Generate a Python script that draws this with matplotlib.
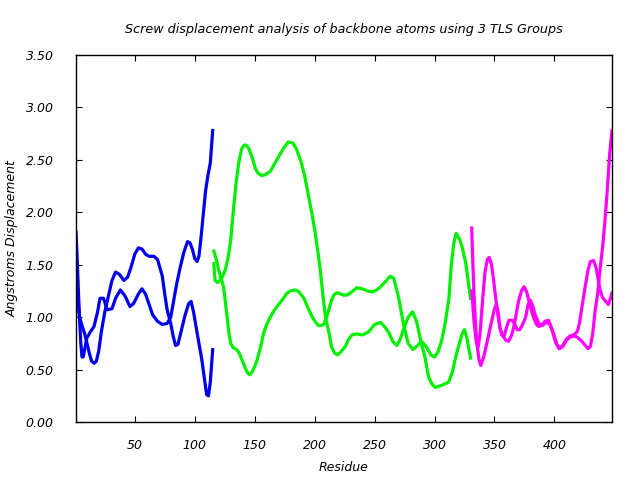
import matplotlib
matplotlib.use("Agg")
import matplotlib.pyplot as plt

# TLS group 1 (blue), two curves
blue_res_a = [1, 2, 3, 4, 5, 6, 7, 8, 10, 13, 16, 19, 21, 24, 27, 31, 34, 38, 42, 46, 49, 53, 56, 59,
              62, 65, 69, 73, 77, 80, 82.5, 85, 88, 91, 94, 96, 98, 100, 102, 103.5, 105, 107.5, 109,
              111, 113, 115]
blue_val_a = [1.81, 1.55, 1.25, 0.98, 0.75, 0.62, 0.62, 0.68, 0.80, 0.86, 0.91, 1.05, 1.18, 1.18, 1.07,
              1.08, 1.18, 1.26, 1.20, 1.10, 1.13, 1.22, 1.27, 1.22, 1.12, 1.02, 0.96, 0.93, 0.94, 1.00,
              1.16, 1.32, 1.48, 1.62, 1.72, 1.71, 1.65, 1.56, 1.53, 1.58, 1.73, 2.02, 2.20, 2.35, 2.47,
              2.78]
blue_res_b = [1, 2, 4, 6, 8, 10, 12, 14, 16, 18, 20, 22, 25, 28, 31, 34, 37, 41, 44, 47, 50, 53, 56, 59,
              62, 66, 69, 71, 73, 75, 77, 80, 82, 84, 86, 89, 92, 95, 97, 99, 102, 104, 106, 108, 110,
              111.5, 113, 115]
blue_val_b = [1.30, 1.20, 1.00, 0.92, 0.85, 0.76, 0.66, 0.58, 0.56, 0.58, 0.68, 0.85, 1.05, 1.20, 1.35,
              1.43, 1.41, 1.35, 1.38, 1.48, 1.60, 1.66, 1.65, 1.60, 1.58, 1.58, 1.55, 1.47, 1.39, 1.22,
              1.07, 0.94, 0.82, 0.73, 0.74, 0.88, 1.02, 1.13, 1.15, 1.05, 0.85, 0.72, 0.59, 0.42, 0.26,
              0.25, 0.38, 0.69]

# TLS group 2 (green)
green_res_a = [116, 118, 120, 122, 124, 125.5, 127, 128.5, 130, 132, 135, 137, 139.5, 142, 144, 146, 148,
               150, 152, 155, 157.5, 160, 163, 166, 170, 174, 177, 180, 184, 187, 191, 194, 198, 201,
               203, 206, 208, 210, 212, 214, 216, 218, 220, 224, 227, 231, 235, 239.7, 244, 248, 252,
               255, 259, 263, 266, 270, 274, 278, 282, 286, 289, 293, 297, 300, 303, 306, 309, 312, 314,
               316, 318, 321, 323, 326, 328, 330]
green_val_a = [1.63, 1.55, 1.45, 1.37, 1.29, 1.15, 1.00, 0.85, 0.75, 0.71, 0.69, 0.66, 0.59, 0.52, 0.47,
               0.45, 0.48, 0.53, 0.59, 0.72, 0.85, 0.93, 1.00, 1.06, 1.12, 1.18, 1.23, 1.25, 1.26, 1.24,
               1.18, 1.10, 1.00, 0.95, 0.92, 0.92, 0.94, 1.00, 1.08, 1.16, 1.21, 1.23, 1.23, 1.21, 1.21,
               1.24, 1.28, 1.27, 1.25, 1.24, 1.26, 1.29, 1.34, 1.39, 1.37, 1.19, 0.94, 0.75, 0.69, 0.73,
               0.77, 0.72, 0.64, 0.62, 0.67, 0.78, 0.95, 1.18, 1.50, 1.70, 1.80, 1.74, 1.67, 1.52, 1.35,
               1.18]
green_res_b = [116, 116.5, 117, 119, 121, 123, 125.5, 128, 130, 132.5, 134.5, 136.7, 139, 141, 143, 145,
               148, 150.5, 153, 156, 159, 163, 166, 170, 174, 178, 182, 185, 189, 192, 195, 198, 200.5,
               203, 205, 207, 209, 212, 214, 216.5, 219, 222, 225.5, 228, 231, 235, 240, 245, 250, 255,
               259, 262, 265, 268.6, 271, 274, 278, 281.7, 285, 289, 292, 295, 298, 300.6, 306, 311.7,
               315, 317, 320, 323, 325, 327, 330]
green_val_b = [1.51, 1.42, 1.35, 1.33, 1.35, 1.38, 1.45, 1.58, 1.73, 2.05, 2.28, 2.47, 2.60, 2.64, 2.64,
               2.61, 2.52, 2.42, 2.37, 2.35, 2.36, 2.39, 2.45, 2.53, 2.61, 2.67, 2.66, 2.60, 2.47, 2.33,
               2.15, 1.97, 1.80, 1.60, 1.42, 1.20, 1.00, 0.85, 0.72, 0.66, 0.64, 0.67, 0.72, 0.78, 0.83,
               0.84, 0.83, 0.86, 0.93, 0.95, 0.90, 0.85, 0.77, 0.73, 0.78, 0.88, 1.00, 1.05, 0.96, 0.75,
               0.62, 0.43, 0.36, 0.33, 0.35, 0.38, 0.48, 0.59, 0.72, 0.84, 0.88, 0.80, 0.61]

# TLS group 3 (magenta)
mag_res_a = [331, 332, 333, 334, 335, 337, 338.6, 341, 343.6, 346, 348, 350, 351.5, 353, 354.5, 356, 358,
             360, 362, 365, 367, 369, 371, 373, 376, 378, 380, 382, 384, 387, 390, 393, 396, 399, 402,
             404, 407, 410, 413, 416, 419, 422, 425, 428, 430, 432, 434, 436, 438, 440, 442, 444, 446,
             448]
mag_val_a = [1.85, 1.50, 1.20, 0.97, 0.78, 0.60, 0.54, 0.62, 0.75, 0.88, 0.98, 1.08, 1.12, 1.05, 0.90,
             0.83, 0.82, 0.90, 0.97, 0.97, 0.93, 0.88, 0.88, 0.92, 1.00, 1.12, 1.16, 1.10, 1.02, 0.94,
             0.92, 0.95, 0.94, 0.85, 0.74, 0.70, 0.72, 0.78, 0.81, 0.82, 0.81, 0.78, 0.74, 0.70, 0.72,
             0.85, 1.07, 1.22, 1.45, 1.65, 1.90, 2.20, 2.55, 2.78]
mag_res_b = [331, 333, 335, 336.5, 338, 340, 342, 344, 345.6, 347.5, 349, 350.6, 352.5, 354.5, 357,
             359.5, 361.7, 364, 366, 368, 370, 372.5, 374.7, 376.5, 378, 380, 382.5, 385, 387, 390, 392,
             395, 398, 401, 404, 407, 410, 413, 416, 419, 421, 423, 425.6, 428, 430, 432.5, 434.5, 436,
             438, 440, 442, 445, 448]
mag_val_b = [1.25, 0.95, 0.75, 0.72, 0.85, 1.15, 1.42, 1.55, 1.57, 1.50, 1.38, 1.22, 1.05, 0.90, 0.82,
             0.78, 0.77, 0.82, 0.90, 1.02, 1.15, 1.25, 1.29, 1.25, 1.19, 1.10, 1.00, 0.93, 0.91, 0.93,
             0.96, 0.97, 0.88, 0.76, 0.70, 0.73, 0.79, 0.82, 0.83, 0.86, 0.95, 1.10, 1.29, 1.45, 1.53,
             1.54, 1.48, 1.39, 1.26, 1.19, 1.16, 1.12, 1.23]

fnt = dict(family="DejaVu Sans", style="italic", size=9)

fig = plt.figure(figsize=(6.4, 4.8), dpi=100)
ax = fig.add_axes([76 / 640, 1 - 422 / 480, 536 / 640, 367 / 480])

lw = 2.3
ax.plot(blue_res_a, blue_val_a, color="#0000f0", lw=lw)
ax.plot(blue_res_b, blue_val_b, color="#0000f0", lw=lw)
ax.plot(green_res_a, green_val_a, color="#00f000", lw=lw)
ax.plot(green_res_b, green_val_b, color="#00f000", lw=lw)
ax.plot(mag_res_a, mag_val_a, color="#ff00ff", lw=lw)
ax.plot(mag_res_b, mag_val_b, color="#ff00ff", lw=lw)

ax.set_xlim(1, 448)
ax.set_ylim(0, 3.5)
ax.set_xticks(range(50, 401, 50))
ax.set_yticks([i * 0.5 for i in range(8)])
ax.set_yticklabels(["%.2f" % (i * 0.5) for i in range(8)])
ax.tick_params(direction="in", length=4, width=0.8, top=True, right=True)
ax.tick_params(axis="x", pad=12)
ax.tick_params(axis="y", pad=16)
for lab in ax.get_xticklabels() + ax.get_yticklabels():
    lab.set_fontfamily("DejaVu Sans")
    lab.set_fontstyle("italic")
    lab.set_fontsize(9)
for s in ax.spines.values():
    s.set_linewidth(1)

ax.set_title("Screw displacement analysis of backbone atoms using 3 TLS Groups", pad=16,
             family="DejaVu Sans", style="italic", size=9.2)
ax.set_xlabel("Residue", labelpad=7, **fnt)
ax.set_ylabel("Angstroms Displacement", **fnt)
ax.yaxis.set_label_coords(-0.107, 0.5)

fig.savefig("out.png", dpi=100)
